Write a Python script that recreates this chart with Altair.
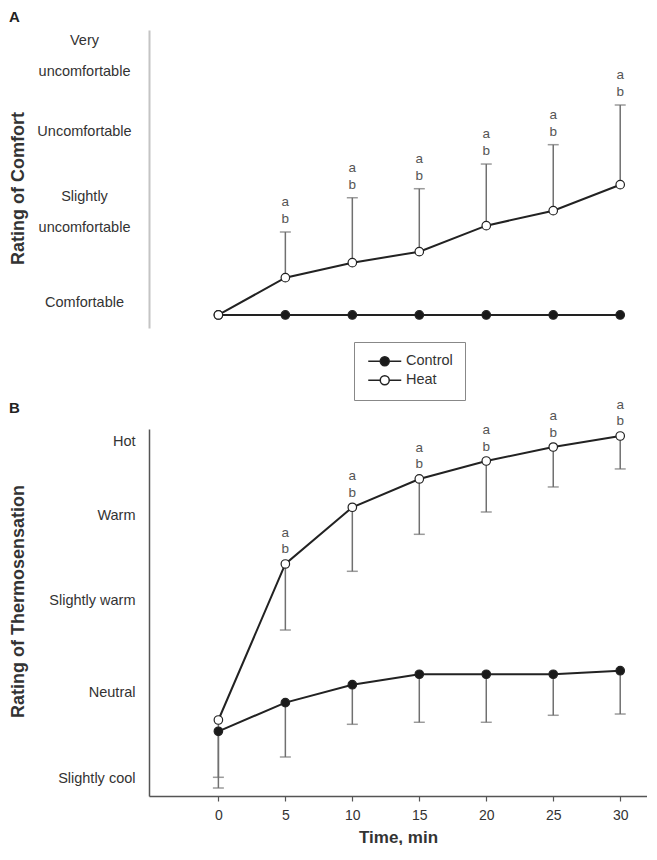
import json
import altair as alt
import pandas as pd

# ---------------- data ----------------
times = [0, 5, 10, 15, 20, 25, 30]
series_names = ["Control", "Heat"]

# Panel A: rating of comfort (0 = comfortable)
comfort_control_mean = [0, 0, 0, 0, 0, 0, 0]
comfort_control_sd = [0, 0, 0, 0, 0, 0, 0]
comfort_heat_mean = [0, 0.455, 0.638, 0.772, 1.089, 1.272, 1.589]
comfort_heat_sd = [0, 0.557, 0.792, 0.768, 0.752, 0.805, 0.972]
comfort_level_values = [0.146, 1.439, 2.244, 3.354]
comfort_level_lines = [["Comfortable"], ["Slightly", "uncomfortable"],
                       ["Uncomfortable"], ["Very", "uncomfortable"]]

# Panel B: rating of thermosensation (0 = neutral)
thermo_control_mean = [-0.463, -0.123, 0.090, 0.214, 0.214, 0.214, 0.256]
thermo_control_sd = [0.673, 0.645, 0.470, 0.570, 0.570, 0.487, 0.514]
thermo_heat_mean = [-0.329, 1.523, 2.196, 2.532, 2.745, 2.911, 3.042]
thermo_heat_sd = [0.680, 0.784, 0.760, 0.657, 0.605, 0.474, 0.391]
thermo_level_values = [-1.020, 0.0, 1.087, 2.104, 2.975]
thermo_level_lines = [["Slightly cool"], ["Neutral"], ["Slightly warm"],
                      ["Warm"], ["Hot"]]

sig_times = [5, 10, 15, 20, 25, 30]
sig_top = "a"
sig_bottom = "b"

# ---------------- styling ----------------
FONT = "Liberation Sans"
LINE_C = "#222222"
ERR_C = "#707070"
TEXT_C = "#555555"
X_DOMAIN = [-5.18, 32.0]
W = 498


def label_expr(values, lines):
    parts = [f"abs(datum.value - ({v})) < 0.001 ? {json.dumps(l)} : "
             for v, l in zip(values, lines)]
    return "".join(parts) + "''"


def frame(ctrl_m, ctrl_s, heat_m, heat_s, direction):
    rows = []
    for name, ms, ss in (("Control", ctrl_m, ctrl_s), ("Heat", heat_m, heat_s)):
        for t, m, s in zip(times, ms, ss):
            rows.append({"time": t, "series": name, "mean": m, "sd": s,
                         "end": m + direction * s})
    return pd.DataFrame(rows)


legend_path = ("M-3.3,0L-0.9,0M0.9,0L3.3,0"
               "M-0.9,0A0.9,0.9,0,1,1,0.9,0A0.9,0.9,0,1,1,-0.9,0Z")

legend = alt.Legend(
    title=None, orient="none", legendX=205, legendY=312, direction="vertical",
    strokeColor="#888888", fillColor="white", padding=12,
    symbolType=legend_path, symbolSize=100, symbolStrokeColor=LINE_C,
    symbolStrokeWidth=1.5, symbolOffset=11.5, labelOffset=14,
    labelFont=FONT, labelFontSize=14.5, labelColor="#333333", rowPadding=3,
)

fill_enc = alt.Fill("series:N",
                    scale=alt.Scale(domain=series_names, range=["#1a1a1a", "#ffffff"]),
                    legend=legend)

sig_filter = f"datum.series == 'Heat' && indexof({json.dumps(sig_times)}, datum.time) >= 0"


def panel(df, ydomain, yaxis, xaxis, height, err_filter, sig_anchor, sig_dy):
    base = alt.Chart(df).encode(
        x=alt.X("time:Q", scale=alt.Scale(domain=X_DOMAIN, nice=False, zero=False),
                axis=xaxis),
    )
    y_main = alt.Y("mean:Q", scale=alt.Scale(domain=ydomain, nice=False, zero=False),
                   axis=yaxis)
    err = base.transform_filter(err_filter)
    rules = err.mark_rule(color=ERR_C, strokeWidth=1.5).encode(
        y=y_main, y2="end:Q")
    caps = err.mark_tick(color=ERR_C, orient="horizontal", size=11, thickness=1.5).encode(
        y=alt.Y("end:Q", scale=alt.Scale(domain=ydomain, nice=False, zero=False)))
    lines = base.mark_line(color=LINE_C, strokeWidth=2).encode(
        y=y_main, detail="series:N", order="time:Q")
    points = base.mark_point(filled=True, size=72, stroke=LINE_C, strokeWidth=1.2,
                             opacity=1).encode(y=y_main, fill=fill_enc)
    sig = base.transform_filter(sig_filter)
    t_b = sig.mark_text(font=FONT, fontSize=13.5, color=TEXT_C, dy=sig_dy[0]).encode(
        y=alt.Y(f"{sig_anchor}:Q"), text=alt.value(sig_bottom))
    t_a = sig.mark_text(font=FONT, fontSize=13.5, color=TEXT_C, dy=sig_dy[1]).encode(
        y=alt.Y(f"{sig_anchor}:Q"), text=alt.value(sig_top))
    return alt.layer(rules, caps, lines, points, t_b, t_a).properties(width=W, height=height)


df_a = frame(comfort_control_mean, comfort_control_sd, comfort_heat_mean, comfort_heat_sd, 1)
df_b = frame(thermo_control_mean, thermo_control_sd, thermo_heat_mean, thermo_heat_sd, -1)

axis_a = alt.Axis(
    title="Rating of Comfort", values=comfort_level_values,
    labelExpr=label_expr(comfort_level_values, comfort_level_lines),
    labelAlign="center", labelBaseline="middle", labelPadding=65, labelLineHeight=31,
    labelFont=FONT, labelFontSize=14.5, labelColor="#333333", labelOverlap=False,
    labelFlush=False, labelBound=False,
    ticks=False, tickSize=0, grid=False,
    domainColor="#c4c4c4", domainWidth=2,
    titleFont=FONT, titleFontSize=18, titleFontWeight="bold", titleColor="#333333",
    titleX=-122, titleY=158, titleAngle=-90, titleBaseline="bottom",
)

axis_b_y = alt.Axis(
    title="Rating of Thermosensation", values=thermo_level_values,
    labelExpr=label_expr(thermo_level_values, thermo_level_lines),
    labelAlign="right", labelBaseline="middle", labelPadding=14,
    labelFont=FONT, labelFontSize=14.5, labelColor="#333333", labelOverlap=False,
    labelFlush=False, labelBound=False,
    ticks=False, tickSize=0, grid=False,
    domainColor="#555555", domainWidth=1.5,
    titleFont=FONT, titleFontSize=18, titleFontWeight="bold", titleColor="#333333",
    titleX=-122, titleY=172, titleAngle=-90, titleBaseline="bottom",
)

axis_b_x = alt.Axis(
    title="Time, min", values=times, format="d",
    ticks=True, tickSize=5, tickColor="#555555", tickWidth=1.2,
    domainColor="#555555", domainWidth=1.5, grid=False,
    labelFont=FONT, labelFontSize=14, labelColor="#333333", labelPadding=7,
    labelFlush=False,
    titleFont=FONT, titleFontSize=17, titleFontWeight="bold", titleColor="#333333",
    titlePadding=7,
)

panel_a = panel(df_a, [-0.159, 3.476], axis_a, None, 298,
                "datum.series == 'Heat' && datum.sd > 0", "end", (-13, -30)).properties(
    title=alt.Title("A", anchor="start", frame="bounds", font=FONT, fontSize=15,
                    fontWeight="bold", color="#222222", offset=5))

panel_b = panel(df_b, [-1.231, 3.125], axis_b_y, axis_b_x, 367,
                "datum.sd > 0", "mean", (-14.5, -31)).properties(
    title=alt.Title("B", anchor="start", frame="bounds", font=FONT, fontSize=15,
                    fontWeight="bold", color="#222222", offset=-18))

chart = alt.vconcat(panel_a, panel_b, spacing=69).resolve_scale(
    fill="shared").resolve_legend(fill="shared").properties(
    padding={"left": 0, "top": 2, "right": 0, "bottom": 0}
).configure_view(stroke=None)

chart.save("out.html", embed_options={"renderer": "svg", "actions": False})
